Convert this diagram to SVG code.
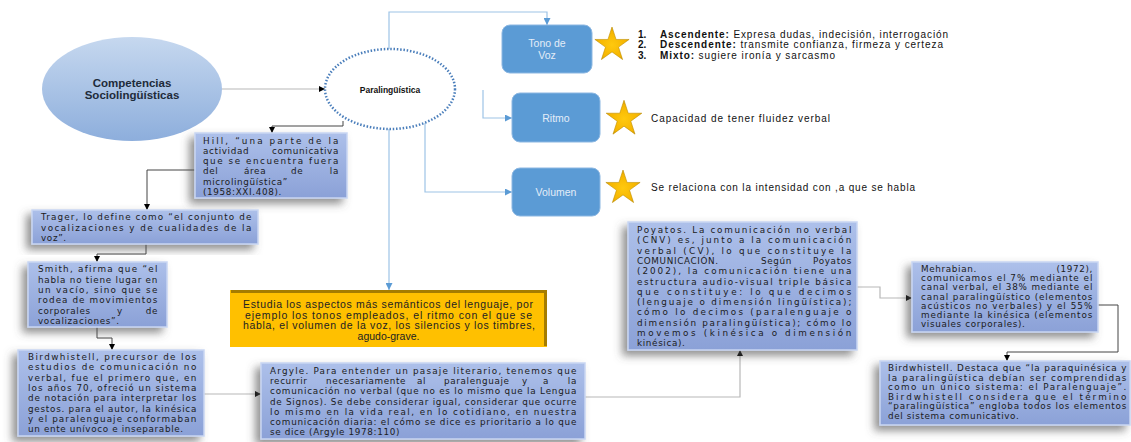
<svg xmlns="http://www.w3.org/2000/svg" width="1131" height="442" viewBox="0 0 1131 442">
<style>
.bt{font-family:"DejaVu Sans",Verdana,sans-serif;font-size:8.8px;letter-spacing:0.65px;fill:#1b1b1b}
.box{fill:url(#bg);stroke:#c9d6f2;stroke-width:1.5;filter:url(#sh)}
.rb{fill:#5b9bd5;stroke:#8cb7e2;stroke-width:1}
.rbt{font-family:"Liberation Sans",Arial,sans-serif;font-size:10.5px;fill:#e3edf8;text-anchor:middle}
.lt{font-family:"Liberation Sans",Arial,sans-serif;font-size:10px;fill:#111}
.yt{font-family:"Liberation Sans",Arial,sans-serif;font-size:10.5px;fill:#222;text-anchor:middle}
.ck{fill:none;stroke:#444;stroke-width:1}
.cg{fill:none;stroke:#b8b8b8;stroke-width:1.2}
.cb{fill:none;stroke:#9dc3e6;stroke-width:1.2}
.star{fill:url(#sg);stroke:#c08e00;stroke-width:0.6}
</style>
<defs>
<linearGradient id="bg" x1="0" y1="0" x2="0" y2="1"><stop offset="0" stop-color="#adc0ea"/><stop offset="1" stop-color="#8ba1d7"/></linearGradient>
<linearGradient id="eg" x1="0" y1="0" x2="0" y2="1"><stop offset="0" stop-color="#c6d8ef"/><stop offset="1" stop-color="#8daedc"/></linearGradient>
<radialGradient id="sg" cx="0.5" cy="0.55" r="0.6"><stop offset="0" stop-color="#ffc90e"/><stop offset="0.7" stop-color="#f5b400"/><stop offset="1" stop-color="#b88500"/></radialGradient>
<filter id="sh" x="-20%" y="-20%" width="140%" height="150%"><feDropShadow dx="-5" dy="5" stdDeviation="4" flood-color="#555" flood-opacity="0.65"/></filter>
<path id="star" d="M0,-18 L4.05,-5.56 L17.12,-5.56 L6.53,2.12 L10.58,14.56 L0,6.88 L-10.58,14.56 L-6.53,2.12 L-17.12,-5.56 L-4.05,-5.56 Z"/>
<marker id="ak" viewBox="0 0 10 10" refX="10" refY="5" markerWidth="6" markerHeight="6" markerUnits="userSpaceOnUse" orient="auto"><path d="M0,0 L10,5 L0,10 Z" fill="#000"/></marker>
<marker id="ab" viewBox="0 0 10 10" refX="10" refY="5" markerWidth="7" markerHeight="7" markerUnits="userSpaceOnUse" orient="auto"><path d="M0,0 L10,5 L0,10 Z" fill="#5b9bd5"/></marker>
</defs>

<g id="connectors">
<path class="cg" d="M222,89 L325,89" marker-end="url(#ak)"/>
<path class="cb" d="M389,49 L389,12 L547,12 L547,25" marker-end="url(#ab)"/>
<path class="cb" d="M483,90 L483,118 L512,118" marker-end="url(#ab)"/>
<path class="cb" d="M425,123 L425,192 L512,192" marker-end="url(#ab)"/>
<path class="cb" d="M389,129 L389,290" marker-end="url(#ab)"/>
<path class="ck" d="M343,121 L343,126 L272,126 L272,133" marker-end="url(#ak)"/>
<path class="ck" d="M195,170 L147,170 L147,210" marker-end="url(#ak)"/>
<path class="ck" d="M146,244 L146,254 L97,254 L97,262" marker-end="url(#ak)"/>
<path class="ck" d="M97,327 L97,338 L112,338 L112,350" marker-end="url(#ak)"/>
<path class="cg" d="M204,394 L261,394" marker-end="url(#ak)"/>
<path class="cg" d="M585,397 L740,397 L740,350" marker-end="url(#ak)"/>
<path class="cg" d="M857,287 L880,287 L880,298 L912,298" marker-end="url(#ak)"/>
<path class="ck" d="M1098,305 L1118,305 L1118,352 L1007,352 L1007,361" marker-end="url(#ak)"/>
</g>

<g id="competencias">
<ellipse cx="132" cy="89" rx="90" ry="52" fill="url(#eg)"/>
<text x="132" y="87" font-family="Liberation Sans,Arial,sans-serif" font-size="11.5" font-weight="bold" fill="#1e2b3a" text-anchor="middle">Competencias</text>
<text x="132" y="99" font-family="Liberation Sans,Arial,sans-serif" font-size="11.5" font-weight="bold" fill="#1e2b3a" text-anchor="middle">Sociolingüísticas</text>
</g>

<g id="paralinguistica">
<ellipse cx="390" cy="89" rx="65" ry="40" fill="#fff" stroke="#4a7ebb" stroke-width="2.5" stroke-dasharray="1.5 1.8"/>
<text x="390" y="93" font-family="Liberation Sans,Arial,sans-serif" font-size="8.5" font-weight="bold" fill="#111" text-anchor="middle">Paralingüística</text>
</g>

<g id="tono">
<rect class="rb" x="502" y="25" width="90" height="48" rx="8"/>
<text class="rbt" x="547" y="47">Tono de</text>
<text class="rbt" x="547" y="59">Voz</text>
<use href="#star" class="star" transform="translate(612,45)"/>
<text class="lt" x="638" y="37.5" font-weight="bold">1.</text>
<text class="lt" x="660" y="37.5" textLength="288" lengthAdjust="spacing"><tspan font-weight="bold">Ascendente:</tspan> Expresa dudas, indecisión, interrogación</text>
<text class="lt" x="638" y="48" font-weight="bold">2.</text>
<text class="lt" x="660" y="48" textLength="283" lengthAdjust="spacing"><tspan font-weight="bold">Descendente:</tspan> transmite confianza, firmeza y certeza</text>
<text class="lt" x="638" y="58.5" font-weight="bold">3.</text>
<text class="lt" x="660" y="58.5" textLength="175" lengthAdjust="spacing"><tspan font-weight="bold">Mixto:</tspan> sugiere ironía y sarcasmo</text>
</g>

<g id="ritmo">
<rect class="rb" x="512" y="93" width="88" height="49" rx="8"/>
<text class="rbt" x="556" y="121.5">Ritmo</text>
<use href="#star" class="star" transform="translate(624,119) scale(1.04)"/>
<text class="lt" x="651" y="121.5" textLength="179" lengthAdjust="spacing">Capacidad de tener fluidez verbal</text>
</g>

<g id="volumen">
<rect class="rb" x="512" y="168" width="88" height="48" rx="8"/>
<text class="rbt" x="556" y="196">Volumen</text>
<use href="#star" class="star" transform="translate(623,188)"/>
<text class="lt" x="651" y="191" textLength="264" lengthAdjust="spacing">Se relaciona con la intensidad con ,a que se habla</text>
</g>

<g id="hill">
<rect class="box" x="195" y="133" width="152" height="65"/>
<text class="bt" x="203" y="144" textLength="136" lengthAdjust="spacing">Hill, “una parte de la</text>
<text class="bt" x="203" y="154">actividad</text><text class="bt" x="339" y="154" text-anchor="end">comunicativa</text>
<text class="bt" x="203" y="164" textLength="136" lengthAdjust="spacing">que se encuentra fuera</text>
<text class="bt" x="203" y="174">del</text><text class="bt" x="244" y="174">área</text><text class="bt" x="291" y="174">de</text><text class="bt" x="339" y="174" text-anchor="end">la</text>
<text class="bt" x="203" y="184.5">microlingüística”</text>
<text class="bt" x="203" y="195">(1958:XXI.408).</text>
</g>

<g id="trager">
<rect class="box" x="32" y="210" width="226" height="34"/>
<text class="bt" x="41" y="220" textLength="211" lengthAdjust="spacing">Trager, lo define como “el conjunto de</text>
<text class="bt" x="41" y="231" textLength="211" lengthAdjust="spacing">vocalizaciones y de cualidades de la</text>
<text class="bt" x="41" y="241">voz”.</text>
</g>

<g id="smith">
<rect class="box" x="28" y="262" width="139" height="65"/>
<text class="bt" x="38" y="272" textLength="120" lengthAdjust="spacing">Smith, afirma que “el</text>
<text class="bt" x="38" y="282.5" textLength="120" lengthAdjust="spacing">habla no tiene lugar en</text>
<text class="bt" x="38" y="293" textLength="120" lengthAdjust="spacing">un vacío, sino que se</text>
<text class="bt" x="38" y="303" textLength="120" lengthAdjust="spacing">rodea de movimientos</text>
<text class="bt" x="38" y="313.5">corporales</text><text class="bt" x="117" y="313.5">y</text><text class="bt" x="158" y="313.5" text-anchor="end">de</text>
<text class="bt" x="38" y="324">vocalizaciones”.</text>
</g>

<g id="birdwhistell1">
<rect class="box" x="18" y="350" width="186" height="86"/>
<text class="bt" x="28" y="360" textLength="169" lengthAdjust="spacing">Birdwhistell, precursor de los</text>
<text class="bt" x="28" y="370.3" textLength="169" lengthAdjust="spacing">estudios de comunicación no</text>
<text class="bt" x="28" y="380.6" textLength="169" lengthAdjust="spacing">verbal, fue el primero que, en</text>
<text class="bt" x="28" y="390.9" textLength="169" lengthAdjust="spacing">los años 70, ofreció un sistema</text>
<text class="bt" x="28" y="401.2" textLength="169" lengthAdjust="spacing">de notación para interpretar los</text>
<text class="bt" x="28" y="411.5" textLength="169" lengthAdjust="spacing">gestos. para el autor, la kinésica</text>
<text class="bt" x="28" y="421.8" textLength="169" lengthAdjust="spacing">y el paralenguaje conformaban</text>
<text class="bt" x="28" y="432">un ente unívoco e inseparable.</text>
</g>

<g id="estudia">
<rect x="230" y="290" width="317" height="57" fill="#ffc000"/>
<path d="M231,291.5 L545.5,291.5 L545.5,346" fill="none" stroke="#a57c00" stroke-width="3"/>
<text class="yt" x="388" y="308" textLength="290" lengthAdjust="spacing">Estudia los aspectos más semánticos del lenguaje, por</text>
<text class="yt" x="388.5" y="318.5" textLength="287" lengthAdjust="spacing">ejemplo los tonos empleados, el ritmo con el que se</text>
<text class="yt" x="389" y="329" textLength="292" lengthAdjust="spacing">habla, el volumen de la voz, los silencios y los timbres,</text>
<text class="yt" x="388.5" y="339.5">agudo-grave.</text>
</g>

<g id="argyle">
<rect class="box" x="261" y="363" width="324" height="76"/>
<text class="bt" x="270" y="374" textLength="307" lengthAdjust="spacing">Argyle. Para entender un pasaje literario, tenemos que</text>
<text class="bt" x="270" y="384.2">recurrir</text><text class="bt" x="326" y="384.2">necesariamente</text><text class="bt" x="417" y="384.2">al</text><text class="bt" x="444" y="384.2">paralenguaje</text><text class="bt" x="522" y="384.2">y</text><text class="bt" x="543" y="384.2">a</text><text class="bt" x="577" y="384.2" text-anchor="end">la</text>
<text class="bt" x="270" y="394.4" textLength="307" lengthAdjust="spacing">comunicación no verbal (que no es lo mismo que la Lengua</text>
<text class="bt" x="270" y="404.6" textLength="307" lengthAdjust="spacing">de Signos). Se debe considerar igual, considerar que ocurre</text>
<text class="bt" x="270" y="414.8" textLength="307" lengthAdjust="spacing">lo mismo en la vida real, en lo cotidiano, en nuestra</text>
<text class="bt" x="270" y="425" textLength="307" lengthAdjust="spacing">comunicación diaria: el cómo se dice es prioritario a lo que</text>
<text class="bt" x="270" y="435">se dice (Argyle 1978:110)</text>
</g>

<g id="poyatos">
<rect class="box" x="628" y="222" width="229" height="128"/>
<text class="bt" x="637" y="233" textLength="215" lengthAdjust="spacing">Poyatos. La comunicación no verbal</text>
<text class="bt" x="637" y="243.3" textLength="215" lengthAdjust="spacing">(CNV) es, junto a la comunicación</text>
<text class="bt" x="637" y="253.6" textLength="215" lengthAdjust="spacing">verbal (CV), lo que constituye la</text>
<text class="bt" x="637" y="263.9">COMUNICACIÓN.</text><text class="bt" x="761" y="263.9">Según</text><text class="bt" x="852" y="263.9" text-anchor="end">Poyatos</text>
<text class="bt" x="637" y="274.2" textLength="215" lengthAdjust="spacing">(2002), la comunicación tiene una</text>
<text class="bt" x="637" y="284.5" textLength="215" lengthAdjust="spacing">estructura audio-visual triple básica</text>
<text class="bt" x="637" y="294.8" textLength="215" lengthAdjust="spacing">que constituye: lo que decimos</text>
<text class="bt" x="637" y="305.1" textLength="215" lengthAdjust="spacing">(lenguaje o dimensión lingüística);</text>
<text class="bt" x="637" y="315.4" textLength="215" lengthAdjust="spacing">cómo lo decimos (paralenguaje o</text>
<text class="bt" x="637" y="325.7" textLength="215" lengthAdjust="spacing">dimensión paralingüística); cómo lo</text>
<text class="bt" x="637" y="336" textLength="215" lengthAdjust="spacing">movemos (kinésica o dimensión</text>
<text class="bt" x="637" y="346">kinésica).</text>
</g>

<g id="mehrabian">
<rect class="box" x="912" y="262" width="186" height="70"/>
<text class="bt" x="921" y="272">Mehrabian.</text><text class="bt" x="1093" y="272" text-anchor="end">(1972),</text>
<text class="bt" x="921" y="281.2" textLength="172" lengthAdjust="spacing">comunicamos el 7% mediante el</text>
<text class="bt" x="921" y="290.4" textLength="172" lengthAdjust="spacing">canal verbal, el 38% mediante el</text>
<text class="bt" x="921" y="299.6" textLength="172" lengthAdjust="spacing">canal paralingüístico (elementos</text>
<text class="bt" x="921" y="308.8" textLength="172" lengthAdjust="spacing">acústicos no verbales) y el 55%</text>
<text class="bt" x="921" y="318" textLength="172" lengthAdjust="spacing">mediante la kinésica (elementos</text>
<text class="bt" x="921" y="327">visuales corporales).</text>
</g>

<g id="birdwhistell2">
<rect class="box" x="880" y="361" width="250" height="64"/>
<text class="bt" x="888" y="371" textLength="239" lengthAdjust="spacing">Birdwhistell. Destaca que “la paraquinésica y</text>
<text class="bt" x="888" y="380.6" textLength="239" lengthAdjust="spacing">la paralingüística debían ser comprendidas</text>
<text class="bt" x="888" y="390.2" textLength="239" lengthAdjust="spacing">como un único sistema: el Paralenguaje”.</text>
<text class="bt" x="888" y="399.8" textLength="239" lengthAdjust="spacing">Birdwhistell considera que el término</text>
<text class="bt" x="888" y="409.4" textLength="239" lengthAdjust="spacing">“paralingüística” engloba todos los elementos</text>
<text class="bt" x="888" y="419">del sistema comunicativo.</text>
</g>
</svg>
